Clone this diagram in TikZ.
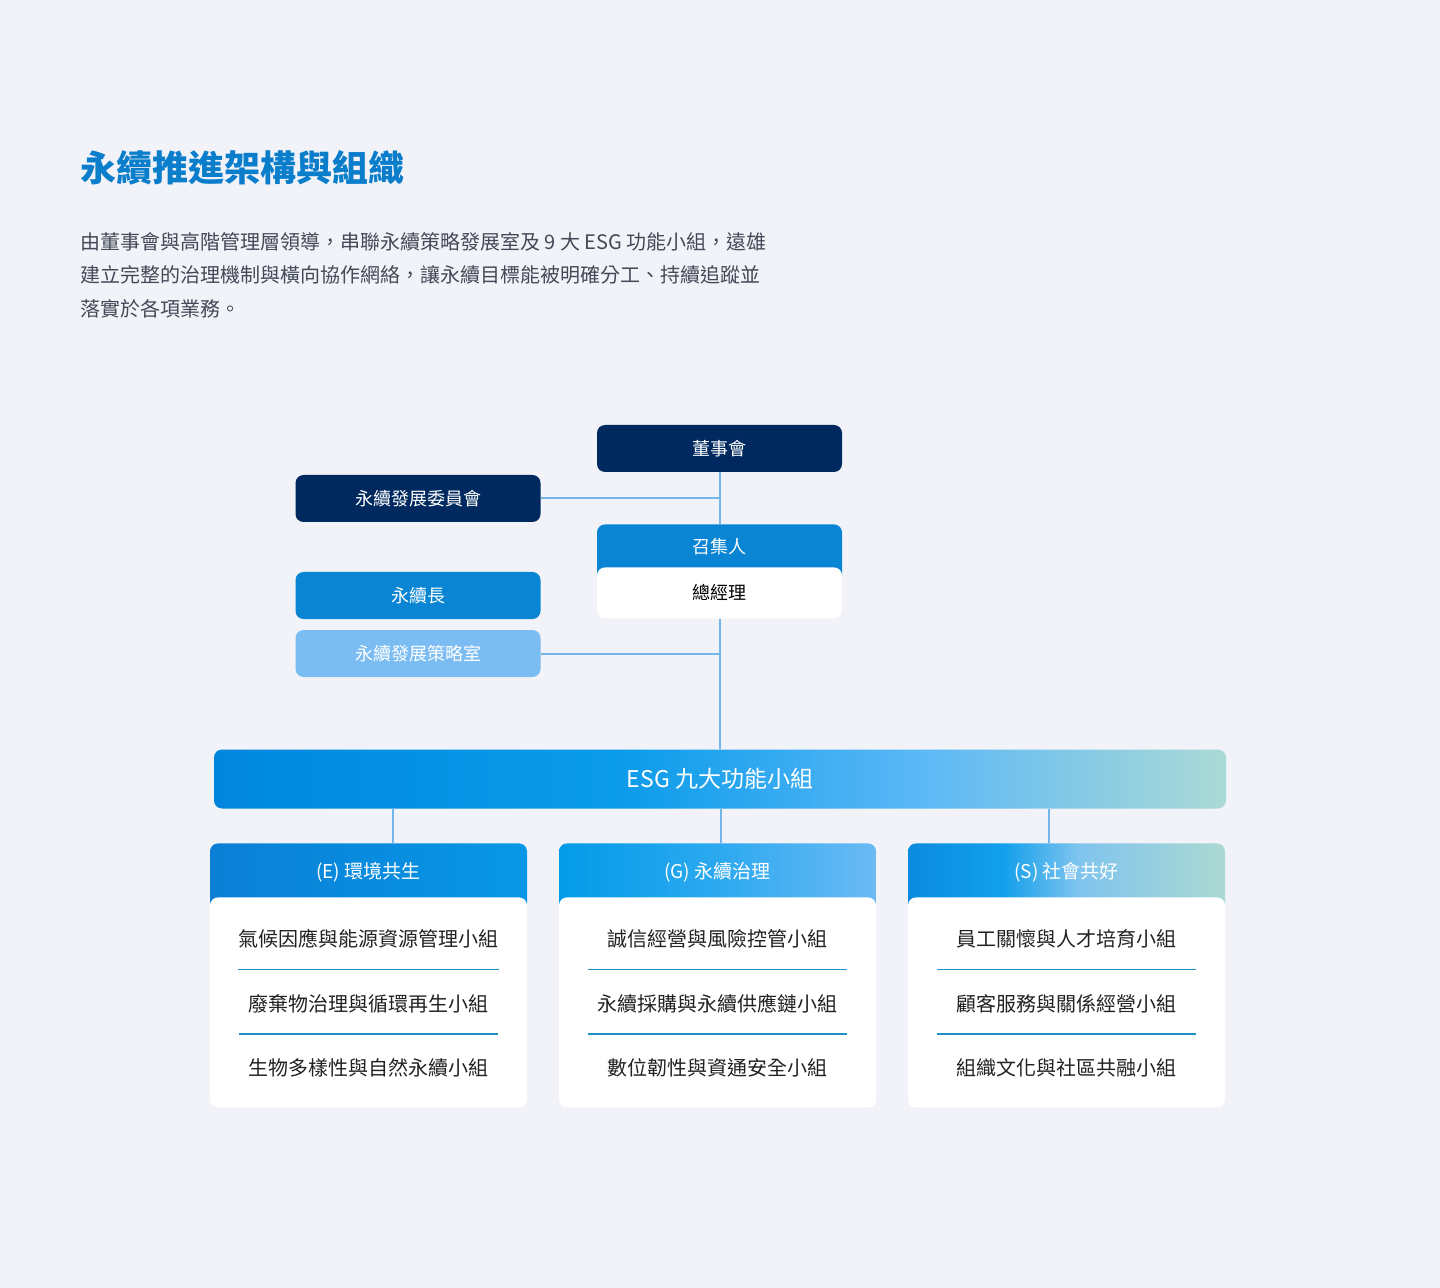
\documentclass[tikz,border=0pt]{standalone}
\usepackage{fontspec}
\setmainfont{Noto Sans CJK TC}
\usetikzlibrary{positioning}

\definecolor{pagebg}{HTML}{F1F3F9}
\definecolor{titleblue}{HTML}{0A7DCB}
\definecolor{bodygray}{HTML}{434957}
\definecolor{navy}{HTML}{002A5F}
\definecolor{midblue}{HTML}{0A85D3}
\definecolor{paleblue}{HTML}{7BBDF2}
\definecolor{linkblue}{HTML}{74B6EA}
\definecolor{rulecol}{HTML}{1E90C6}
\definecolor{rowtext}{HTML}{222222}
\definecolor{esgA}{HTML}{0087DD}
\definecolor{esgB}{HTML}{0A9BEA}
\definecolor{esgC}{HTML}{5CB8F6}
\definecolor{esgD}{HTML}{ABDAD6}
\definecolor{envA}{HTML}{0A7FD5}
\definecolor{envB}{HTML}{0897E7}
\definecolor{govA}{HTML}{039BE8}
\definecolor{govB}{HTML}{2CA9F0}
\definecolor{govC}{HTML}{6BBAF4}
\definecolor{socA}{HTML}{0B8BDF}
\definecolor{socB}{HTML}{12A0EC}
\definecolor{socC}{HTML}{80C4EE}
\definecolor{socD}{HTML}{ACD9D2}

\pgfdeclarehorizontalshading{esgshade}{100bp}{color(0bp)=(esgA); color(25bp)=(esgA); color(45bp)=(esgB); color(60bp)=(esgC); color(75bp)=(esgD); color(100bp)=(esgD)}
\pgfdeclarehorizontalshading{envshade}{100bp}{color(0bp)=(envA); color(25bp)=(envA); color(75bp)=(envB); color(100bp)=(envB)}
\pgfdeclarehorizontalshading{govshade}{100bp}{color(0bp)=(govA); color(25bp)=(govA); color(50bp)=(govB); color(75bp)=(govC); color(100bp)=(govC)}
\pgfdeclarehorizontalshading{socshade}{100bp}{color(0bp)=(socA); color(25bp)=(socA); color(40bp)=(socB); color(52bp)=(socC); color(75bp)=(socD); color(100bp)=(socD)}

\tikzset{
	unitbox/.style={rounded corners=4pt, minimum width=122.5pt, minimum height=23.5pt, inner sep=0pt, text=white, font=\fontsize{9}{9}\selectfont},
	navybox/.style={unitbox, fill=navy},
	bluebox/.style={unitbox, fill=midblue},
	palebox/.style={unitbox, fill=paleblue},
	link/.style={draw=linkblue, line width=1pt},
	grouphead/.style={rounded corners=4pt, minimum width=158.5pt, minimum height=0pt, inner sep=0pt, anchor=north, text=white, font=\fontsize{9.5}{9.5}\selectfont, text height=17.6pt, text depth=16.4pt},
	groupbody/.style={rounded corners=4pt, fill=white, minimum width=158.5pt, minimum height=105pt, inner sep=0pt, anchor=north},
	row/.style={minimum width=129pt, minimum height=30pt, inner sep=0pt, text=rowtext, font=\fontsize{10}{10}\selectfont},
	rule/.style={draw=rulecol, line width=0.6pt}
}

\begin{document}
\begin{tikzpicture}[x=0.5pt, y=-0.5pt]
	\useasboundingbox (0,0) rectangle (1440,1288);
	\fill[pagebg] (0,0) rectangle (1440,1288);

	% heading and intro
	\path (80,168) node[anchor=west, inner sep=0pt, text=titleblue, font=\fontsize{18}{18}\selectfont\bfseries] (title) {永續推進架構與組織};
	\path (80,232) node[anchor=north west, inner sep=0pt, align=left, text=bodygray, font=\fontsize{10}{16.75}\selectfont] (intro)
		{由董事會與高階管理層領導，串聯永續策略發展室及 9 大 ESG 功能小組，遠雄\\建立完整的治理機制與橫向協作網絡，讓永續目標能被明確分工、持續追蹤並\\落實於各項業務。};

	% governance
	\path (719.5,448.5) node[navybox] (board) {董事會};
	\path (board) ++(-301.5,50) node[navybox] (committee) {永續發展委員會};
	\path (board) ++(0,75.5) node[bluebox, anchor=north, minimum height=0pt, text height=14.5pt, text depth=15.5pt] (convener) {召集人};
	\path (convener.north) ++(0,43) node[unitbox, fill=white, anchor=north, minimum height=25.5pt, text=black] (gm) {總經理};
	\path (committee) ++(0,97) node[bluebox] (cso) {永續長};
	\path (cso) ++(0,58) node[palebox] (office) {永續發展策略室};

	\path [link] (board.south) -- (convener.north);
	\path [link] (committee.east) -- (committee.east -| board.south);
	\path [link] (office.east) -- (office.east -| gm.south);

	% ESG groups
	\path (720,779) node[rounded corners=4pt, shading=esgshade, minimum width=506pt, minimum height=29.5pt, inner sep=0pt, text=white, font=\fontsize{11.5}{11.5}\selectfont] (esg) {ESG 九大功能小組};
	\path [link] (gm.south) -- (gm.south |- esg.north);

	\path (368.5,843) node[grouphead, shading=envshade] (envhead) {(E) 環境共生};
	\path (envhead.north) ++(349,0) node[grouphead, shading=govshade] (govhead) {(G) 永續治理};
	\path (govhead.north) ++(349,0) node[grouphead, shading=socshade] (sochead) {(S) 社會共好};

	\coordinate (envtap) at ([xshift=12.25pt]envhead.north);
	\coordinate (govtap) at ([xshift=1.5pt]govhead.north);
	\coordinate (soctap) at ([xshift=-8.75pt]sochead.north);
	\path [link] (esg.south -| envtap) -- (envtap);
	\path [link] (esg.south -| govtap) -- (govtap);
	\path [link] (esg.south -| soctap) -- (soctap);

	\path (envhead.north) ++(0,54) node[groupbody] (envbody) {};
	\path (envbody.north) ++(0,42) node[row] (env1) {氣候因應與能源資源管理小組};
	\path (env1) ++(0,64.5) node[row] (env2) {廢棄物治理與循環再生小組};
	\path (env2) ++(0,64.5) node[row] (env3) {生物多樣性與自然永續小組};
	\draw[rule] (env1.south west) -- (env1.south east);
	\draw[rule] (env2.south west) -- (env2.south east);

	\path (govhead.north) ++(0,54) node[groupbody] (govbody) {};
	\path (govbody.north) ++(0,42) node[row] (gov1) {誠信經營與風險控管小組};
	\path (gov1) ++(0,64.5) node[row] (gov2) {永續採購與永續供應鏈小組};
	\path (gov2) ++(0,64.5) node[row] (gov3) {數位韌性與資通安全小組};
	\draw[rule] (gov1.south west) -- (gov1.south east);
	\draw[rule] (gov2.south west) -- (gov2.south east);

	\path (sochead.north) ++(0,54) node[groupbody] (socbody) {};
	\path (socbody.north) ++(0,42) node[row] (soc1) {員工關懷與人才培育小組};
	\path (soc1) ++(0,64.5) node[row] (soc2) {顧客服務與關係經營小組};
	\path (soc2) ++(0,64.5) node[row] (soc3) {組織文化與社區共融小組};
	\draw[rule] (soc1.south west) -- (soc1.south east);
	\draw[rule] (soc2.south west) -- (soc2.south east);
\end{tikzpicture}
\end{document}
